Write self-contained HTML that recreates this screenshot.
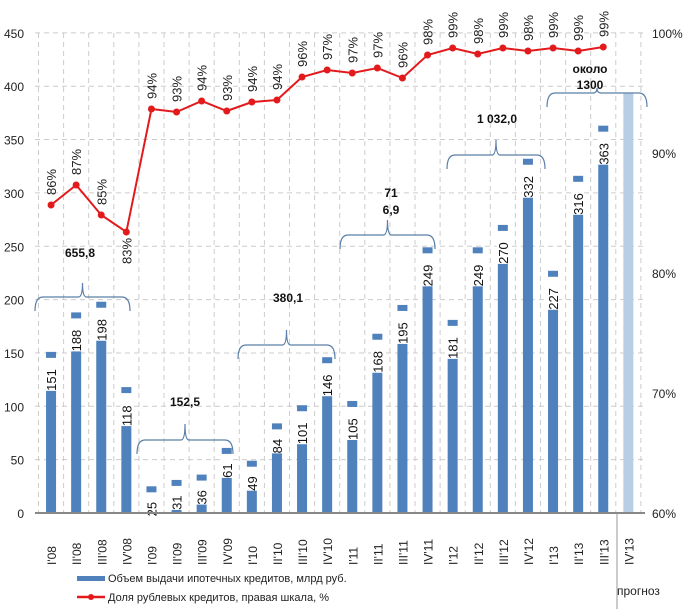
<!DOCTYPE html>
<html><head><meta charset="utf-8"><style>
html,body{margin:0;padding:0;background:#fff;width:683px;height:609px;overflow:hidden}
text{font-family:"Liberation Sans","DejaVu Sans",sans-serif}
</style></head><body>
<svg id="s" width="683" height="609" xmlns="http://www.w3.org/2000/svg"></svg>
<script>
const s=document.getElementById('s');let h='';
const X0=38.5,W=25.1,Y0=513,K=1.067;
// grid
for(let i=0;i<=9;i++){const y=Y0-i*50*K;h+=`<line x1="35" x2="645" y1="${y}" y2="${y}" stroke="#ccc" stroke-dasharray="5,4"/>`;
h+=`<text x="24" y="${y+5}" font-size="12" text-anchor="end" fill="#222">${i*50}</text>`;}
for(let i=0;i<=24;i++){const x=X0+i*W;h+=`<line x1="${x}" x2="${x}" y1="33" y2="513" stroke="#ccc" stroke-dasharray="5,4"/>`;}
[['100%',33],['90%',153],['80%',273],['70%',393],['60%',513]].forEach(r=>h+=`<text x="652" y="${r[1]+5}" font-size="12" fill="#222">${r[0]}</text>`);
const v=[151,188,198,118,25,31,36,61,49,84,101,146,105,168,195,249,181,249,270,332,227,316,363];
v.forEach((d,i)=>{const cx=X0+W*(i+0.5),t=Y0-d*K;h+=`<rect x="${cx-5}" y="${t}" width="10" height="${d*K}" fill="#4f81bd"/>`;
const len=String(d).length*9+6;h+=`<rect x="${cx-6}" y="${t+6}" width="12" height="${len}" fill="#fff"/>`;
h+=`<text transform="translate(${cx+5},${t+9+len-3}) rotate(-90)" font-size="13" fill="#111">${d}</text>`;});
{const cx=X0+W*23.5;h+=`<rect x="${cx-5}" y="93" width="10" height="420" fill="#b9cde5"/>`;}
h+=`<line x1="35" x2="645" y1="513" y2="513" stroke="#888" stroke-width="2"/>`;
h+=`<line x1="617" x2="617" y1="513" y2="609" stroke="#999"/>`;
// x labels
const q=['I','II','III','IV'],yr=['08','09','10','11','12','13'];
for(let i=0;i<24;i++){const cx=X0+W*(i+0.5);const lab=q[i%4]+"'"+yr[Math.floor(i/4)];
h+=`<text transform="translate(${cx+5},565) rotate(-90)" font-size="12" fill="#222">${lab}</text>`;}
// line
const py=[205,185,215,232,109,112,101,111,102,100,77,70,73,68,78,55,48,54,48,51,48,51,47];
const pl=[86,87,85,83,94,93,94,93,94,94,96,97,97,97,96,98,99,98,99,98,99,99,99];
let pts=py.map((y,i)=>`${X0+W*(i+0.5)},${y}`).join(' ');
h+=`<polyline points="${pts}" fill="none" stroke="#e31a1c" stroke-width="2"/>`;
py.forEach((y,i)=>{const cx=X0+W*(i+0.5);h+=`<circle cx="${cx}" cy="${y}" r="3.5" fill="#e31a1c"/>`;
let ty=i==3?y+32:y-10; if(ty-28<3)ty=33;
h+=`<text transform="translate(${cx+5},${ty}) rotate(-90)" font-size="13" fill="#222">${pl[i]}%</text>`;});
// braces
function br(x1,x2,y,tip){const m=(x1+x2)/2;return `<path d="M${x1},${y+14} Q${x1},${y} ${x1+8},${y} L${m-4},${y} Q${m},${y} ${m},${tip} Q${m},${y} ${m+4},${y} L${x2-8},${y} Q${x2},${y} ${x2},${y+14}" fill="none" stroke="#5a7fa8" stroke-width="1.2"/>`;}
h+=br(35,130,297,283)+br(137,233,440,424)+br(238,335,345,330)+br(340,435,235,220)+br(447,545,155,140)+br(547,647,93,88);
const lb=[['655,8',80,257],['152,5',185,406],['380,1',288,302],['71',391,197],['6,9',391,214],['1 032,0',497,123],['около',590,73],['1300',590,89]];
lb.forEach(l=>h+=`<text x="${l[1]}" y="${l[2]}" font-size="12" font-weight="bold" text-anchor="middle" fill="#111">${l[0]}</text>`);
// legend
h+=`<rect x="77" y="576" width="28" height="5" fill="#4f81bd"/><text x="108" y="582" font-size="11" fill="#222">Объем выдачи ипотечных кредитов, млрд руб.</text>`;
h+=`<line x1="77" x2="105" y1="597" y2="597" stroke="#e31a1c" stroke-width="2.5"/><circle cx="91" cy="597" r="3" fill="#e31a1c"/><text x="108" y="601" font-size="11" fill="#222">Доля рублевых кредитов, правая шкала, %</text>`;
h+=`<text x="617" y="595" font-size="12" fill="#222">прогноз</text>`;
s.innerHTML=h;
</script>
</body></html>
